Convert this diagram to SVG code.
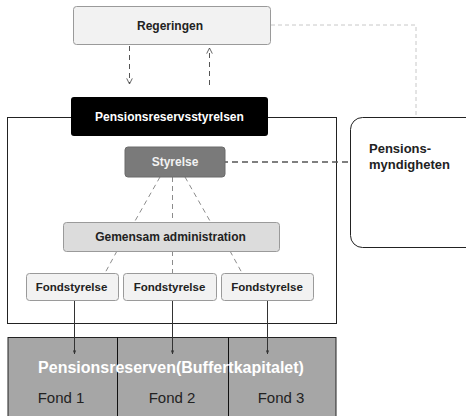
<svg xmlns="http://www.w3.org/2000/svg" width="466" height="416" viewBox="0 0 466 416">
<style>
text{font-family:"Liberation Sans",Arial,sans-serif;font-weight:bold;}
.lt{fill:#f2f2f2;stroke:#9a9a9a;stroke-width:1}
.dash{fill:none;stroke:#8c8c8c;stroke-width:1;stroke-dasharray:5,4}
</style>
<defs>
<marker id="chev" viewBox="0 0 10 10" refX="9" refY="5" markerWidth="7" markerHeight="7" orient="auto" markerUnits="userSpaceOnUse">
<path d="M1,1 L9,5 L1,9" fill="none" stroke="#555" stroke-width="1.3"/>
</marker>
<marker id="tip" viewBox="0 0 10 10" refX="9" refY="5" markerWidth="4" markerHeight="4" orient="auto" markerUnits="userSpaceOnUse">
<path d="M0,1 L10,5 L0,9 z" fill="#333"/>
</marker>
</defs>
<rect width="466" height="416" fill="#fff"/>
<g id="frame">
<rect x="7.5" y="117.5" width="329" height="206" fill="none" stroke="#222" stroke-width="1"/>
</g>
<g id="reserve">
<rect x="8" y="337.5" width="328" height="80" fill="#a6a6a6" stroke="#222" stroke-width="1"/>
<line x1="117.5" y1="337" x2="117.5" y2="416" stroke="#111" stroke-width="1"/>
<line x1="228.5" y1="337" x2="228.5" y2="416" stroke="#111" stroke-width="1"/>
<text x="171" y="373" text-anchor="middle" font-size="16" fill="#fff">Pensionsreserven(Buffertkapitalet)</text>
<text x="61" y="403" text-anchor="middle" font-size="15" fill="#222" style="font-weight:normal">Fond 1</text>
<text x="172" y="403" text-anchor="middle" font-size="15" fill="#222" style="font-weight:normal">Fond 2</text>
<text x="281" y="403" text-anchor="middle" font-size="15" fill="#222" style="font-weight:normal">Fond 3</text>
</g>
<g id="connectors">
<polyline points="271,25 416,25 416,117" fill="none" stroke="#c8c8c8" stroke-width="1" stroke-dasharray="4,3"/>
<line x1="129.5" y1="46" x2="129.5" y2="84" class="dash" style="stroke:#555" marker-end="url(#chev)"/>
<line x1="209.5" y1="85" x2="209.5" y2="48" class="dash" style="stroke:#555" marker-end="url(#chev)"/>
<line x1="222" y1="162" x2="360" y2="162" stroke="#555" stroke-width="1.5" stroke-dasharray="6,4" marker-end="url(#tip)"/>
<circle cx="222" cy="162" r="1.2" fill="#333"/>
<line x1="160" y1="177" x2="135" y2="221" class="dash"/>
<line x1="172.5" y1="177" x2="172.5" y2="221" class="dash"/>
<line x1="185" y1="177" x2="210" y2="221" class="dash"/>
<line x1="117" y1="251" x2="105" y2="273" class="dash"/>
<line x1="172.5" y1="251" x2="172.5" y2="273" class="dash"/>
<line x1="230" y1="251" x2="242" y2="273" class="dash"/>
<line x1="74.5" y1="300" x2="74.5" y2="354" stroke="#333" stroke-width="1" marker-end="url(#tip)"/>
<line x1="172.5" y1="300" x2="172.5" y2="354" stroke="#333" stroke-width="1" marker-end="url(#tip)"/>
<line x1="267.5" y1="300" x2="267.5" y2="354" stroke="#333" stroke-width="1" marker-end="url(#tip)"/>
</g>
<g id="regeringen">
<rect x="73.5" y="6.5" width="197" height="38" rx="3" class="lt"/>
<text x="170" y="30" text-anchor="middle" font-size="12" fill="#222">Regeringen</text>
</g>
<g id="pensionsreservsstyrelsen">
<rect x="71" y="97" width="197" height="39" rx="3" fill="#000"/>
<text x="169.5" y="121" text-anchor="middle" font-size="12" fill="#fff">Pensionsreservsstyrelsen</text>
</g>
<g id="pensionsmyndigheten">
<rect x="350.5" y="117.5" width="130" height="130" rx="12" fill="#fff" stroke="#222" stroke-width="1"/>
<text x="369" y="153" font-size="13" fill="#222">Pensions-</text>
<text x="369" y="169" font-size="13" fill="#222">myndigheten</text>
</g>
<g id="styrelse">
<rect x="125" y="147" width="100" height="30" rx="3" fill="#7a7a7a" stroke="#6a6a6a"/>
<text x="175" y="166" text-anchor="middle" font-size="12" fill="#f2f2f2">Styrelse</text>
</g>
<g id="gemensam">
<rect x="63.5" y="222.5" width="216" height="29" rx="3" fill="#dcdcdc" stroke="#9a9a9a"/>
<text x="170.5" y="241" text-anchor="middle" font-size="12" fill="#222">Gemensam administration</text>
</g>
<g id="fond1">
<rect x="26.5" y="273.5" width="92" height="27" rx="3" class="lt"/>
<text x="71.5" y="291" text-anchor="middle" font-size="11.5" fill="#222">Fondstyrelse</text>
</g>
<g id="fond2">
<rect x="123.5" y="273.5" width="93" height="27" rx="3" class="lt"/>
<text x="169.5" y="291" text-anchor="middle" font-size="11.5" fill="#222">Fondstyrelse</text>
</g>
<g id="fond3">
<rect x="221.5" y="273.5" width="92" height="27" rx="3" class="lt"/>
<text x="267" y="291" text-anchor="middle" font-size="11.5" fill="#222">Fondstyrelse</text>
</g>
</svg>
